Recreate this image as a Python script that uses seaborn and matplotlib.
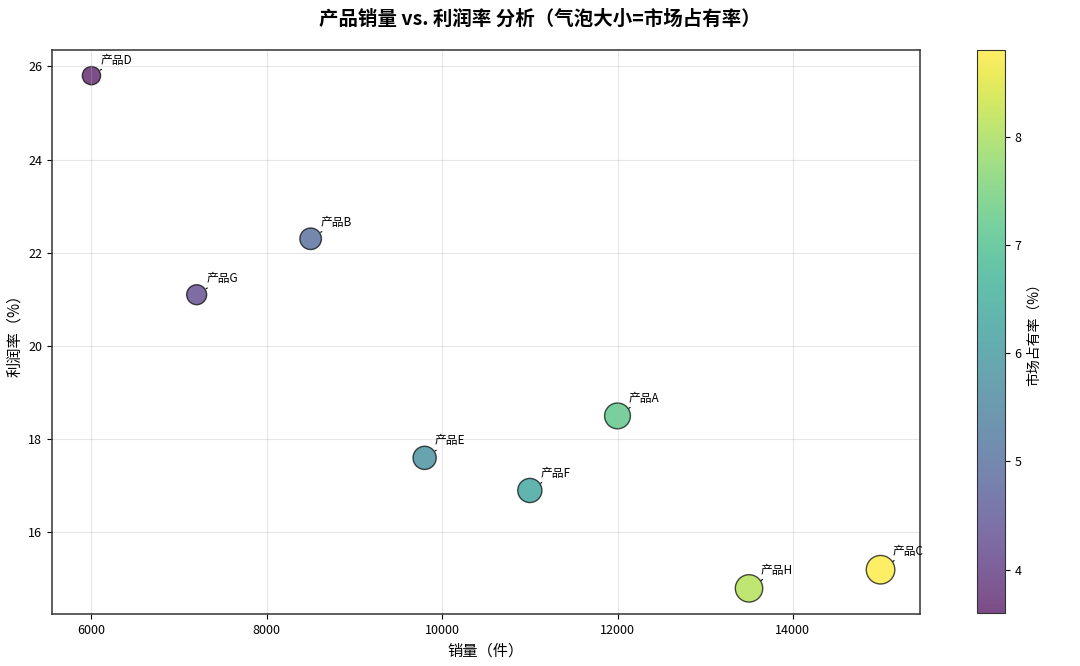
import matplotlib
matplotlib.use("Agg")
import matplotlib.pyplot as plt
import matplotlib as mpl
import numpy as np
import pandas as pd
import seaborn as sns

plt.rcParams['font.family'] = ['Noto Sans CJK SC', 'DejaVu Sans']
plt.rcParams['axes.unicode_minus'] = False

products = ['产品A', '产品B', '产品C', '产品D', '产品E', '产品F', '产品G', '产品H']
sales = [12000, 8500, 15000, 6000, 9800, 11000, 7200, 13500]
profit = [18.5, 22.3, 15.2, 25.8, 17.6, 16.9, 21.1, 14.8]
share = [7.2, 5.0, 8.8, 3.6, 5.8, 6.3, 4.3, 8.1]

df = pd.DataFrame({'product': products, 'sales': sales, 'profit': profit, 'share': share})

fig = plt.figure(figsize=(10.8, 6.66), dpi=100)
ax = fig.add_axes([52 / 1080, 52 / 666, 868 / 1080, 564 / 666])
cax = fig.add_axes([977 / 1080, 53 / 666, 28 / 1080, 563 / 666])

norm = mpl.colors.Normalize(vmin=min(share), vmax=max(share))
sns.scatterplot(data=df, x='sales', y='profit', hue='share', palette='viridis',
                hue_norm=norm, size='share', sizes=(0, 480), size_norm=(0, 10),
                alpha=0.7, edgecolor='black', linewidth=1, legend=False, ax=ax)

for _, row in df.iterrows():
    r = np.sqrt(row['share'] * 48 / np.pi)  # bubble radius in points
    off = 0.5 * r + 2.8
    dist = np.sqrt(2) * off
    ax.annotate(row['product'], (row['sales'], row['profit']),
                xytext=(off, off), textcoords='offset points', fontsize=8.5,
                va='bottom',
                arrowprops=dict(arrowstyle='-', lw=0.8, color='black',
                                shrinkA=0, shrinkB=min(r, dist - 1.5)))

ax.grid(True, alpha=0.3)
ax.set_xlabel('销量（件）', fontsize=11)
ax.set_ylabel('利润率（%）', fontsize=11)
ax.tick_params(labelsize=9)
ax.set_xticks([6000, 8000, 10000, 12000, 14000])
for sp in ax.spines.values():
    sp.set_color('#333333')
    sp.set_linewidth(1.1)
fig.suptitle('产品销量 vs. 利润率 分析（气泡大小=市场占有率）', fontsize=14,
             fontweight='bold', y=0.985)

sm = mpl.cm.ScalarMappable(norm=norm, cmap='viridis')
cbar = fig.colorbar(sm, cax=cax, alpha=0.7)
cbar.set_label('市场占有率（%）', fontsize=10)
cbar.ax.tick_params(labelsize=9)
cbar.outline.set_edgecolor('#333333')

fig.savefig('out.png', dpi=100)
